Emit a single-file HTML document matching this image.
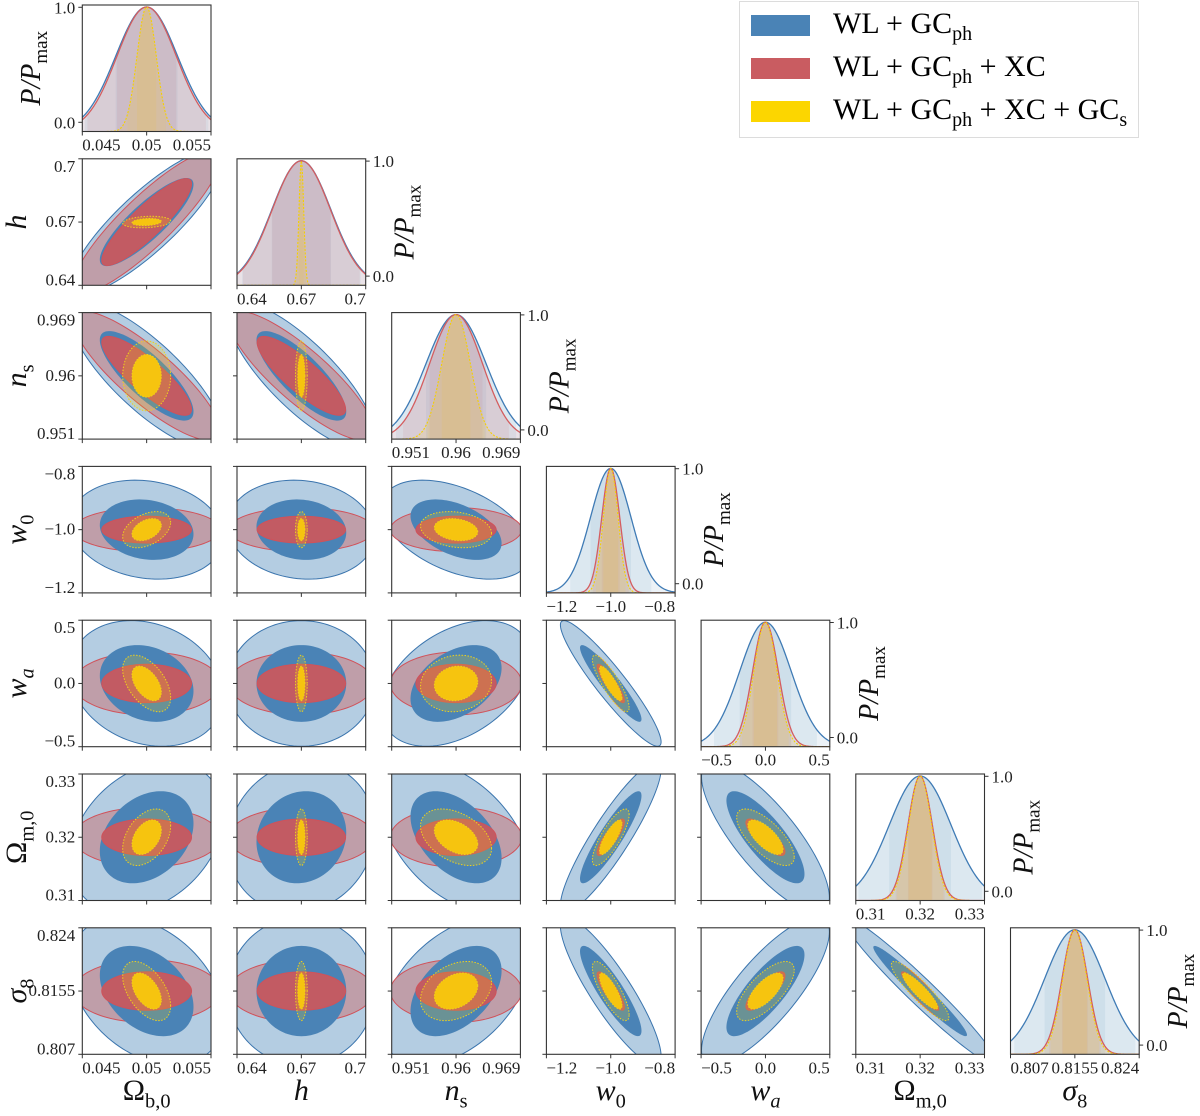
<!DOCTYPE html>
<html><head><meta charset="utf-8"><title>Fisher triangle plot</title>
<style>
html,body{margin:0;padding:0;background:#fff;}
svg{display:block;}
svg text{font-family:"Liberation Serif","DejaVu Serif",serif;}
</style></head>
<body>
<svg id="chart" xmlns="http://www.w3.org/2000/svg" width="1200" height="1116" viewBox="0 0 1200 1116" font-family="Liberation Serif, DejaVu Serif, serif">
  <g>
    <rect x="739.5" y="1.5" width="399" height="136" fill="#fff" stroke="#dcdcdc" stroke-width="1"/>
    <rect x="751" y="15" width="59" height="21" fill="#4a83b6"/>
    <rect x="751" y="58" width="59" height="21" fill="#c95c61"/>
    <rect x="751" y="101" width="59" height="21" fill="#fcd600"/>
    <text x="833" y="33" font-size="30">WL + GC<tspan font-size="20" dy="7">ph</tspan></text>
    <text x="833" y="76" font-size="30">WL + GC<tspan font-size="20" dy="7">ph</tspan><tspan dy="-7"> + XC</tspan></text>
    <text x="833" y="119" font-size="30">WL + GC<tspan font-size="20" dy="7">ph</tspan><tspan dy="-7"> + XC + GC</tspan><tspan font-size="20" dy="7">s</tspan></text>
  </g>
</svg>
<script>
// ---- data ----
const paramNames = ['Omega_b0','h','n_s','w_0','w_a','Omega_m0','sigma_8'];
const fiducial = [0.05, 0.67, 0.96, -1.0, 0.0, 0.32, 0.8155];
const axisMin = [0.045, 0.64, 0.951, -1.2, -0.5, 0.31, 0.807];
const axisMax = [0.055, 0.70, 0.969, -0.8, 0.5, 0.33, 0.824];
const tickValues = [[0.045,0.05,0.055],[0.64,0.67,0.7],[0.951,0.96,0.969],[-1.2,-1.0,-0.8],[-0.5,0.0,0.5],[0.31,0.32,0.33],[0.807,0.8155,0.824]];
const tickLabels = [['0.045','0.05','0.055'],['0.64','0.67','0.7'],['0.951','0.96','0.969'],['\u22121.2','\u22121.0','\u22120.8'],['\u22120.5','0.0','0.5'],['0.31','0.32','0.33'],['0.807','0.8155','0.824']];
const sigmaBlue   = [0.0024, 0.0138, 0.0042, 0.063, 0.20, 0.0048, 0.0040];
const sigmaRed    = [0.0023, 0.0136, 0.0037, 0.028, 0.10, 0.0019, 0.0017];
const sigmaYellow = [0.00075,0.0011, 0.0020, 0.023, 0.09, 0.0018, 0.0016];
// pair order: (0,1)(0,2)(0,3)(0,4)(0,5)(0,6)(1,2)(1,3)(1,4)(1,5)(1,6)(2,3)(2,4)(2,5)(2,6)(3,4)(3,5)(3,6)(4,5)(4,6)(5,6)
const corrBlue   = [0.85,-0.8,-0.15,-0.2,0.3,-0.35, -0.8,-0.1,0.0,0.1,0.0, -0.45,0.4,-0.45,0.45, -0.93,0.9,-0.88, -0.8,0.8, -0.97];
const corrRed    = [0.88,-0.85,0,0,0,0, -0.85,0,0,0,0, 0,0,0,0, -0.9,0.85,-0.85, -0.8,0.8, -0.93];
const corrYellow = [0.2,0.0,0.4,-0.5,0.4,-0.5, 0,0,0,0,0, -0.2,0.1,-0.4,0.3, -0.85,0.8,-0.8, -0.7,0.7, -0.9];
const diagTickValues = [0.0, 1.0];
const diagTickLabels = ['0.0', '1.0'];

// ---- layout ----
const NS = 'http://www.w3.org/2000/svg';
const svg = document.getElementById('chart');
const W = 128.7, H = 126.5;
const colX = i => 82.3 + i*154.7;
const rowY = j => 5 + j*153.8;
const K1 = Math.sqrt(2.30), K2 = Math.sqrt(6.17);
const N = 7;
const FONT = '"Liberation Serif","DejaVu Serif",serif';

function el(tag, attrs, parent){
  const e = document.createElementNS(NS, tag);
  for (const k in attrs) e.setAttribute(k, attrs[k]);
  if (tag==='text') e.style.fontFamily = FONT;
  (parent||svg).appendChild(e);
  return e;
}
function X(p, v, c){ return colX(c) + (v-axisMin[p])/(axisMax[p]-axisMin[p])*W; }
function Y(p, v, r){ return rowY(r) + H - (v-axisMin[p])/(axisMax[p]-axisMin[p])*H; }
function pairIdx(i,j){ let n=0; for(let a=0;a<N;a++) for(let b=a+1;b<N;b++){ if(a===i&&b===j) return n; n++; } return -1; }

function mathLabel(parent, parts, attrs){
  const t = el('text', attrs, parent);
  let sub = false;
  parts.forEach(pt => {
    const s = document.createElementNS(NS,'tspan');
    s.textContent = pt[0];
    if (pt[1]) s.setAttribute('font-style','italic');
    if (pt[2] && !sub){ s.setAttribute('dy', String(attrs['font-size']*0.25)); s.setAttribute('font-size', String(attrs['font-size']*0.68)); sub = true; }
    else if (pt[2]) { s.setAttribute('font-size', String(attrs['font-size']*0.68)); }
    t.appendChild(s);
  });
  return t;
}
const axisTitles = [
  [['\u03A9',false,false],['b,0',false,true]],
  [['h',true,false]],
  [['n',true,false],['s',false,true]],
  [['w',true,false],['0',false,true]],
  [['w',true,false],['a',true,true]],
  [['\u03A9',false,false],['m,0',false,true]],
  [['\u03C3',true,false],['8',false,true]]
];
const pmaxParts = [['P/P',true,false],['max',false,true]];

function ellipsePath(pi,pj,sig,rho,k,c,r){
  let d='';
  const s = Math.sqrt(1-rho*rho);
  for(let n=0;n<=120;n++){
    const t = n/120*2*Math.PI;
    const xv = fiducial[pi] + k*sig[pi]*Math.cos(t);
    const yv = fiducial[pj] + k*sig[pj]*(rho*Math.cos(t) + s*Math.sin(t));
    d += (n?'L':'M') + X(pi,xv,c).toFixed(2) + ',' + Y(pj,yv,r).toFixed(2);
  }
  return d+'Z';
}

const defs = el('defs',{});
function clipFor(c,r){
  const id = 'clip-'+r+'-'+c;
  const cp = el('clipPath',{id:id},defs);
  el('rect',{x:colX(c),y:rowY(r),width:W,height:H},cp);
  return 'url(#'+id+')';
}

function frameAndTicks(g, c, r, xp, yp, diag){
  const x0=colX(c), y0=rowY(r);
  const fr = el('rect',{x:x0,y:y0,width:W,height:H,fill:'none',stroke:'#333',"stroke-width":1.1},g);
  
  
  tickValues[xp].forEach((v,k)=>{
    const xx = X(xp,v,c);
    const tk = el('line',{x1:xx,x2:xx,y1:y0+H,y2:y0+H+4,stroke:'#333',"stroke-width":1},g);
    
    
    if (diag || r===N-1){
      const anchor = k===0?'start':(k===2?'end':'middle');
      const tl = el('text',{x:xx,y:y0+H+19,"font-size":17,"text-anchor":anchor,fill:'#222'},g);
      tl.textContent = tickLabels[xp][k];
      
      
    }
  });
  if (!diag){
    tickValues[yp].forEach((v,k)=>{
      const yy = Y(yp,v,r);
      const tk = el('line',{x1:x0-4,x2:x0,y1:yy,y2:yy,stroke:'#333',"stroke-width":1},g);
      
      
      if (c===0){
        const by = k===0? y0+H : (k===2? y0+13 : yy+5);
        const tl = el('text',{x:x0-7,y:by,"font-size":17,"text-anchor":'end',fill:'#222'},g);
        tl.textContent = tickLabels[yp][k];
        
        
      }
    });
  } else {
    const left = (c===0);
    diagTickValues.forEach((v,k)=>{
      const yy = y0 + H - (v+0.08)/1.1*H;
      const xs = left? x0 : x0+W;
      const tk = el('line',{x1:xs,x2:left?xs-4:xs+4,y1:yy,y2:yy,stroke:'#333',"stroke-width":1},g);
      
      
      const tl = el('text',{x:left?x0-7:x0+W+7,y:yy+6,"font-size":17,"text-anchor":left?'end':'start',fill:'#222'},g);
      tl.textContent = diagTickLabels[k];
      
      
    });
  }
}

const probes = [
  {sig:sigmaBlue, corr:corrBlue, rgb:'70,130,180', line:'#3f7bb5', name:'blue'},
  {sig:sigmaRed, corr:corrRed, rgb:'205,85,95', line:'#d45d5f', name:'red'},
  {sig:sigmaYellow, corr:corrYellow, rgb:'255,205,0', line:'#f5d000', name:'yellow'}
];

for (let r=0;r<N;r++){
  for (let c=0;c<=r;c++){
    const g = el('g',{});
    
    
    const clip = clipFor(c,r);
    const inner = el('g',{"clip-path":clip},g);
    
    
    const x0=colX(c), y0=rowY(r);
    if (c<r){
      const pi=c, pj=r, idx=pairIdx(c,r);
      const rb=corrBlue[idx], rr=corrRed[idx], ry=corrYellow[idx];
      const layers = [
        [sigmaBlue, rb, K2, '#b4cde2', '#3a74ad', 'blue-2sigma-contour', ''],
        [sigmaRed, rr, K2, '#bf9ea9', '#d0525a', 'red-2sigma-contour', ''],
        [sigmaBlue, rb, K1, '#4a83b6', 'none', 'blue-1sigma-contour', ''],
        [sigmaRed, rr, K1, '#c25b63', '#d0525a', 'red-1sigma-contour', ''],
        [sigmaYellow, ry, K2, 'rgba(255,215,0,0.18)', '#f0d21a', 'yellow-2sigma-contour', '1.5 1.5'],
        [sigmaYellow, ry, K1, '#f6c40f', '#f0d21a', 'yellow-1sigma-contour', '1.5 1.5']
      ];
      layers.forEach(L=>{
        const p = el('path',{d:ellipsePath(pi,pj,L[0],L[1],L[2],c,r),fill:L[3],stroke:L[4],"stroke-width":1},inner);
        if (L[6]) p.setAttribute('stroke-dasharray',L[6]);
        
        
      });
      frameAndTicks(g,c,r,pi,pj,false);
    } else {
      const p = c;
      const yPix = v => y0 + H - v*(H-2);
      const gauss = (pr,v) => Math.exp(-0.5*Math.pow((v-fiducial[p])/pr.sig[p],2));
      const curveFill = (pr, lo, hi) => {
        const a = Math.max(lo, axisMin[p]), b = Math.min(hi, axisMax[p]);
        let d = 'M'+X(p,a,c).toFixed(2)+','+(y0+H);
        for (let n=0;n<=80;n++){ const v=a+(b-a)*n/80; d+='L'+X(p,v,c).toFixed(2)+','+yPix(gauss(pr,v)).toFixed(2); }
        return d+'L'+X(p,b,c).toFixed(2)+','+(y0+H)+'Z';
      };
      probes.forEach(pr=>{
        [3,2,1].forEach(ns=>{
          const f = el('path',{d:curveFill(pr, fiducial[p]-ns*pr.sig[p], fiducial[p]+ns*pr.sig[p]), fill:'rgba('+pr.rgb+','+(ns===3?0.1:0.09)+')'},inner);
          
          
        });
      });
      probes.forEach(pr=>{
        let d='';
        for (let n=0;n<=200;n++){ const v=axisMin[p]+(axisMax[p]-axisMin[p])*n/200; d+=(n?'L':'M')+X(p,v,c).toFixed(2)+','+yPix(gauss(pr,v)).toFixed(2); }
        const ln = el('path',{d:d,fill:'none',stroke:pr.line,"stroke-width":pr.name==='yellow'?1.1:1.3},inner);
        if (pr.name==='yellow') ln.setAttribute('stroke-dasharray','2 1.5');
        
        
      });
      frameAndTicks(g,c,r,p,p,true);
      const left = (c===0);
      const lx = left ? 40 : x0+W+48;
      const ly = y0 + H/2;
      const lab = mathLabel(g, pmaxParts, {x:0,y:0,"font-size":28,"text-anchor":'middle',fill:'#111',transform:'translate('+lx+','+ly+') rotate(-90)'});
      
      
    }
  }
}
for (let r=1;r<N;r++){
  const t = mathLabel(svg, axisTitles[r], {x:0,y:0,"font-size":30,"text-anchor":'middle',fill:'#111',transform:'translate(26,'+(rowY(r)+H/2)+') rotate(-90)'});
  
  
}
for (let c=0;c<N;c++){
  const t = mathLabel(svg, axisTitles[c], {x:colX(c)+W/2,y:1100,"font-size":30,"text-anchor":'middle',fill:'#111'});
  
  
}
</script>
</body></html>
